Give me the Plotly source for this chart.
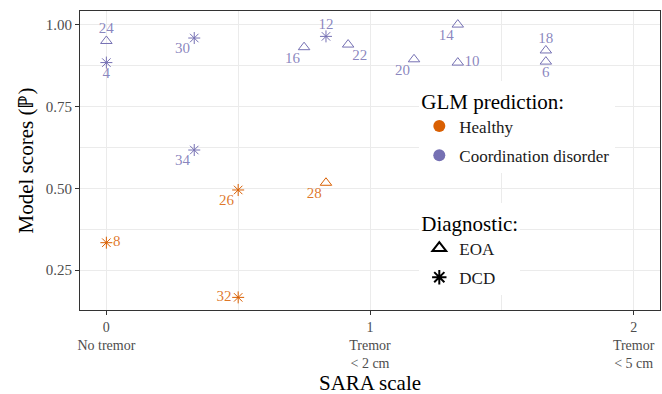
import plotly.graph_objects as go

# ---- data ----
ids = [24, 4, 30, 34, 16, 12, 22, 20, 14, 10, 18, 6, 26, 28, 8, 32]
sara = [0, 0, 1/3, 1/3, 0.75, 0.833, 0.917, 1.167, 1.333, 1.333, 1.667, 1.667, 0.5, 0.833, 0, 0.5]
score = [0.95, 0.884, 0.959, 0.617, 0.931, 0.964, 0.939, 0.894, 1.0, 0.884, 0.921, 0.887, 0.495, 0.517, 0.334, 0.167]
diagnostic = ["EOA", "DCD", "DCD", "DCD", "EOA", "DCD", "EOA", "EOA", "EOA", "EOA", "EOA", "EOA", "DCD", "EOA", "DCD", "DCD"]
prediction = ["Coordination disorder"] * 12 + ["Healthy"] * 4
label_pos = ["top center", "bottom center", "bottom left", "bottom left", "bottom left", "top center",
             "bottom right", "bottom left", "bottom left", "middle right", "top center", "bottom center",
             "bottom left", "bottom left", "middle right", "middle left"]

x_tickvals = [0, 1, 2]
x_ticktext = ["0<br>No tremor", "1<br>Tremor<br>< 2 cm", "2<br>Tremor<br>< 5 cm"]
y_tickvals = [0.25, 0.5, 0.75, 1.0]

pred_levels = ["Healthy", "Coordination disorder"]
diag_levels = ["EOA", "DCD"]
colors = {"Healthy": "#D95F02", "Coordination disorder": "#7570B3"}
label_colors = {"Healthy": "rgba(217,95,2,0.85)", "Coordination disorder": "rgba(117,112,179,0.85)"}
symbols = {"EOA": "triangle-up-open", "DCD": "asterisk-open"}

FONT = "Liberation Serif"

fig = go.Figure()

for p in pred_levels:
    idx = [i for i in range(len(ids)) if prediction[i] == p]
    # points
    fig.add_trace(go.Scatter(
        x=[sara[i] for i in idx],
        y=[score[i] for i in idx],
        mode="markers",
        marker=dict(symbol=[symbols[diagnostic[i]] for i in idx], size=10,
                    color=colors[p], line=dict(color=colors[p], width=1)),
        showlegend=False, cliponaxis=False,
    ))
    # id labels (invisible anchor markers control the gap to the point)
    fig.add_trace(go.Scatter(
        x=[sara[i] for i in idx],
        y=[score[i] for i in idx],
        text=[str(ids[i]) for i in idx],
        textposition=[label_pos[i] for i in idx],
        mode="markers+text",
        marker=dict(size=[9 if label_pos[i].startswith("middle") else 5 for i in idx], opacity=0),
        textfont=dict(family=FONT, size=15, color=label_colors[p]),
        showlegend=False, cliponaxis=False, hoverinfo="skip",
    ))

# legend entries
for p in pred_levels:
    fig.add_trace(go.Scatter(x=[None], y=[None], mode="markers", name=p, legendgroup=p,
                             marker=dict(symbol="circle", size=8, color=colors[p]),
                             legend="legend"))
for d in diag_levels:
    fig.add_trace(go.Scatter(x=[None], y=[None], mode="markers", name=d, legendgroup=d,
                             marker=dict(symbol=symbols[d], size=9, color="black",
                                         line=dict(color="black", width=1)),
                             legend="legend2"))

axis_common = dict(
    showline=True, linecolor="#333333", linewidth=1, mirror=True,
    ticks="outside", ticklen=4, tickcolor="#333333",
    gridcolor="#EBEBEB", gridwidth=1, zeroline=False,
)

fig.update_layout(
    width=662, height=394,
    margin=dict(l=80, r=2, t=11, b=84),
    paper_bgcolor="white", plot_bgcolor="white",
    font=dict(family=FONT, color="black"),
    xaxis=dict(axis_common, range=[-0.1, 2.1], tickvals=x_tickvals, ticktext=x_ticktext,
               tickfont=dict(family=FONT, size=14, color="#4D4D4D"),
               minor=dict(tickvals=[0.5, 1.5], showgrid=True, gridcolor="#EBEBEB", gridwidth=0.6, ticks="")),
    yaxis=dict(axis_common, range=[0.1285, 1.0415], tickvals=y_tickvals, tickformat=".2f",
               tickfont=dict(family=FONT, size=15, color="#4D4D4D"),
               title=dict(text="Model scores (ℙ)", font=dict(family=FONT, size=21), standoff=6),
               minor=dict(tickvals=[0.125, 0.375, 0.625, 0.875], showgrid=True, gridcolor="#EBEBEB",
                          gridwidth=0.6, ticks="")),
    legend=dict(title=dict(text="GLM prediction:", font=dict(family=FONT, size=21, color="black")),
                font=dict(family=FONT, size=17, color="#1a1a1a"), bgcolor="white", tracegroupgap=4,
                x=0.585, y=0.765, xanchor="left", yanchor="top", itemsizing="constant"),
    legend2=dict(title=dict(text="Diagnostic:", font=dict(family=FONT, size=21, color="black")),
                 font=dict(family=FONT, size=17, color="#1a1a1a"), bgcolor="white", tracegroupgap=4,
                 x=0.585, y=0.357, xanchor="left", yanchor="top", itemsizing="constant"),
    annotations=[dict(text="SARA scale", xref="paper", yref="paper", x=0.5, y=-0.244,
                      xanchor="center", yanchor="middle", showarrow=False,
                      font=dict(family=FONT, size=21, color="black"))],
)

fig.write_html("out.html")
